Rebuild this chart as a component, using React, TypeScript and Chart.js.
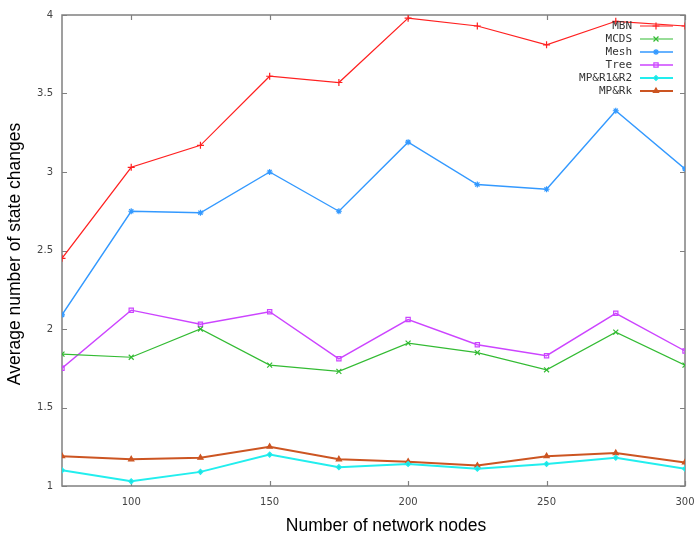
import React, { useEffect, useRef } from "react";
import { Chart, registerables } from "chart.js";
import { drawPoint } from "chart.js/helpers";

Chart.register(...registerables);

const nodes = [75, 100, 125, 150, 175, 200, 225, 250, 275, 300];
const mbn = [2.45, 3.03, 3.17, 3.61, 3.57, 3.98, 3.93, 3.81, 3.96, 3.93];
const mcds = [1.84, 1.82, 2.0, 1.77, 1.73, 1.91, 1.85, 1.74, 1.98, 1.77];
const mesh = [2.09, 2.75, 2.74, 3.0, 2.75, 3.19, 2.92, 2.89, 3.39, 3.02];
const tree = [1.75, 2.12, 2.03, 2.11, 1.81, 2.06, 1.9, 1.83, 2.1, 1.86];
const mpR1R2 = [1.1, 1.03, 1.09, 1.2, 1.12, 1.14, 1.11, 1.14, 1.18, 1.11];
const mpRk = [1.19, 1.17, 1.18, 1.25, 1.17, 1.155, 1.13, 1.19, 1.21, 1.15];

const xTicks = [100, 150, 200, 250, 300];
const yTicks = [1, 1.5, 2, 2.5, 3, 3.5, 4];
const xTitle = "Number of network nodes";
const yTitle = "Average number of state changes";

const framePlugin = {
  id: "gnuframe",
  beforeDatasetsDraw(chart: any) {
    const { ctx, chartArea: a, scales } = chart;
    ctx.save();
    ctx.strokeStyle = "#808080";
    ctx.lineWidth = 1.5;
    ctx.strokeRect(a.left, a.top, a.right - a.left, a.bottom - a.top);
    ctx.lineWidth = 1.2;
    ctx.beginPath();
    for (const v of xTicks) {
      const px = Math.round(scales.x.getPixelForValue(v)) + 0.5;
      ctx.moveTo(px, a.bottom);
      ctx.lineTo(px, a.bottom - 5);
      ctx.moveTo(px, a.top);
      ctx.lineTo(px, a.top + 5);
    }
    for (const v of yTicks) {
      const py = Math.round(scales.y.getPixelForValue(v)) + 0.5;
      ctx.moveTo(a.left, py);
      ctx.lineTo(a.left + 5, py);
      ctx.moveTo(a.right, py);
      ctx.lineTo(a.right - 5, py);
    }
    ctx.stroke();
    ctx.restore();
  },
  afterDraw(chart: any) {
    const { ctx } = chart;
    ctx.save();
    // axis titles
    ctx.fillStyle = "#000";
    ctx.font = "17.5px 'Liberation Sans'";
    ctx.textAlign = "center";
    ctx.textBaseline = "alphabetic";
    ctx.fillText(xTitle, 386, 531);
    ctx.save();
    ctx.translate(20, 254);
    ctx.rotate(-Math.PI / 2);
    ctx.fillText(yTitle, 0, 0);
    ctx.restore();
    // legend
    ctx.font = "11px 'DejaVu Sans Mono'";
    ctx.textAlign = "right";
    ctx.textBaseline = "middle";
    chart.data.datasets.forEach((ds: any, i: number) => {
      const y = 26 + 13 * i;
      ctx.fillStyle = "#333";
      ctx.fillText(ds.label, 632, y);
      ctx.strokeStyle = ds.borderColor;
      ctx.lineWidth = ds.borderWidth;
      ctx.beginPath();
      ctx.moveTo(640, y);
      ctx.lineTo(673, y);
      ctx.stroke();
      ctx.fillStyle = ds.pointBackgroundColor;
      ctx.strokeStyle = ds.borderColor;
      ctx.lineWidth = 1.2;
      drawPoint(ctx, { pointStyle: ds.pointStyle, rotation: 0, radius: ds.pointRadius, borderWidth: 1.2 }, 656, y);
    });
    ctx.restore();
  },
};

function mk(label: string, data: number[], color: string, style: string, width: number, fill: string, radius = 3) {
  return {
    label,
    data: nodes.map((x, i) => ({ x, y: data[i] })),
    borderColor: color,
    backgroundColor: fill,
    pointBackgroundColor: fill,
    pointBorderColor: color,
    pointStyle: style,
    pointRadius: radius,
    pointBorderWidth: 1.2,
    borderWidth: width,
    tension: 0,
  };
}

export default function App() {
  const ref = useRef<HTMLCanvasElement>(null);
  useEffect(() => {
    document.body.style.margin = "0";
    const chart = new Chart(ref.current!, {
      type: "line",
      data: {
        datasets: [
          mk("MBN", mbn, "#ff2020", "cross", 1.2, "#ff2020", 3.5),
          mk("MCDS", mcds, "#33bb33", "crossRot", 1.2, "#33bb33", 3.5),
          mk("Mesh", mesh, "#3399ff", "star", 1.4, "#1177ee", 3),
          mk("Tree", tree, "#cc44ff", "rect", 1.4, "rgba(0,0,0,0)", 3),
          mk("MP&R1&R2", mpR1R2, "#22eeee", "rectRot", 2, "#22dddd", 2.5),
          mk("MP&Rk", mpRk, "#cc5522", "triangle", 2, "#cc5522", 3),
        ] as any,
      },
      options: {
        animation: false,
        responsive: false,
        layout: { padding: { top: 15, right: 10, left: 0, bottom: 0 } },
        plugins: { legend: { display: false }, tooltip: { enabled: false } },
        scales: {
          x: {
            type: "linear",
            min: 75,
            max: 300,
            afterBuildTicks: (s: any) => {
              s.ticks = xTicks.map((v) => ({ value: v }));
            },
            afterFit: (s: any) => {
              s.height = 49;
              s.paddingLeft = 0;
              s.paddingRight = 0;
            },
            grid: { display: false, drawTicks: false },
            border: { display: false },
            ticks: {
              font: { family: "'DejaVu Sans'", size: 10 },
              color: "#444",
              padding: 10,
              maxRotation: 0,
              callback: (v: any) => String(v),
            },
            title: { display: false },
          },
          y: {
            type: "linear",
            min: 1,
            max: 4,
            afterBuildTicks: (s: any) => {
              s.ticks = yTicks.map((v) => ({ value: v }));
            },
            afterFit: (s: any) => {
              s.width = 62;
              s.paddingTop = 0;
              s.paddingBottom = 0;
            },
            grid: { display: false, drawTicks: false },
            border: { display: false },
            ticks: {
              font: { family: "'DejaVu Sans'", size: 10 },
              color: "#444",
              padding: 9,
              callback: (v: any) => String(v),
            },
            title: { display: false },
          },
        },
      },
      plugins: [framePlugin],
    });
    return () => chart.destroy();
  }, []);
  return (
    <div style={{ width: 695, height: 535, background: "#fff" }}>
      <canvas ref={ref} width={695} height={535} style={{ display: "block" }} />
    </div>
  );
}
